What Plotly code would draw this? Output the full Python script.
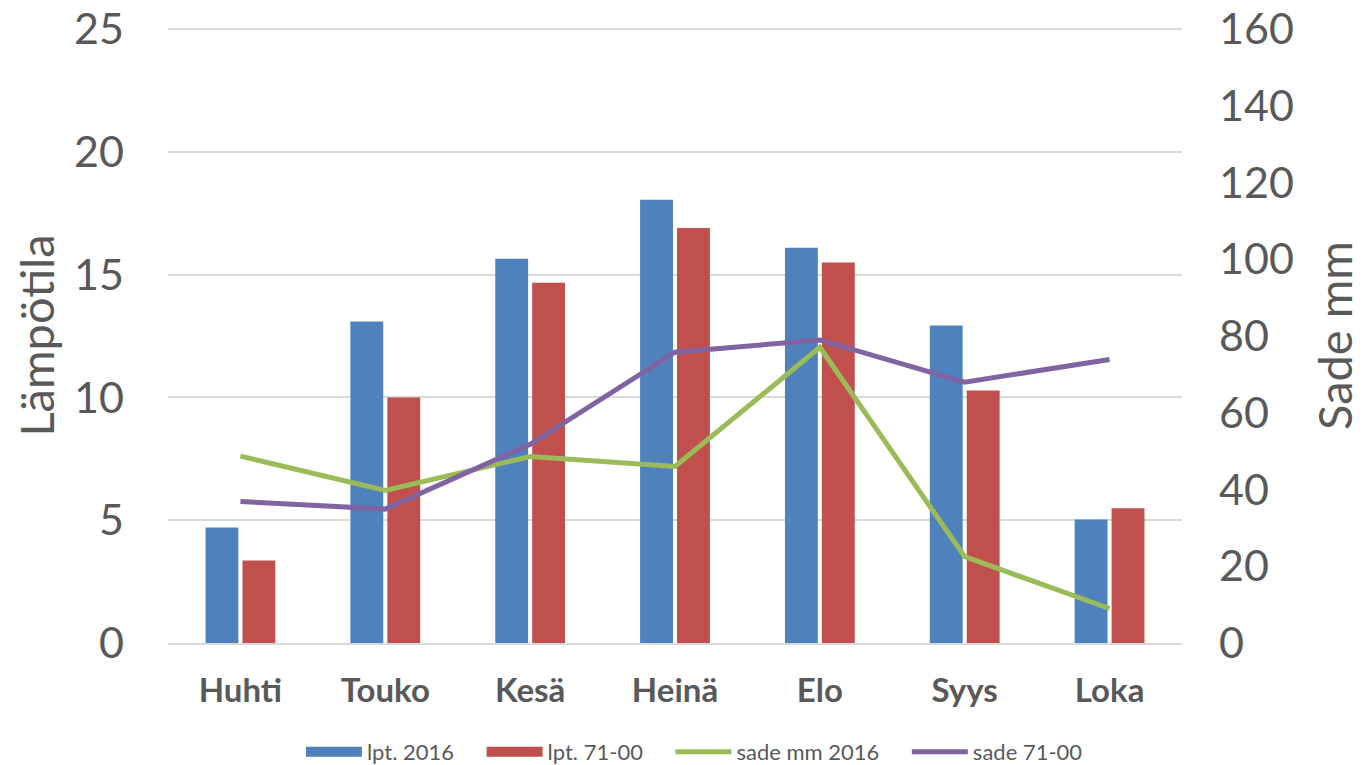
import plotly.graph_objects as go

months = ["Huhti", "Touko", "Kesä", "Heinä", "Elo", "Syys", "Loka"]
lpt_2016 = [4.7, 13.1, 15.65, 18.05, 16.1, 12.93, 5.03]
lpt_71_00 = [3.36, 10.0, 14.67, 16.9, 15.5, 10.28, 5.49]
sade_2016 = [48.7, 39.8, 48.6, 46.0, 77.1, 22.5, 9.0]
sade_71_00 = [36.9, 34.9, 51.8, 75.8, 79.0, 68.0, 73.9]
left_ticks = [0, 5, 10, 15, 20, 25]
right_ticks = [0, 20, 40, 60, 80, 100, 120, 140, 160]

FONT = "Lato"
GREY = "#595959"
C_BLUE, C_RED, C_GREEN, C_PURPLE = "#4F81BD", "#C0504D", "#9BBB59", "#8064A2"
PAD = "\u00a0" * 4
TOP_L = 25.05
TOP_R = 160 * TOP_L / 25

fig = go.Figure()
fig.add_trace(go.Bar(x=months, y=lpt_2016, name="lpt. 2016", marker_color=C_BLUE,
                     marker_line_width=0, showlegend=False))
fig.add_trace(go.Bar(x=months, y=lpt_71_00, name="lpt. 71-00", marker_color=C_RED,
                     marker_line_width=0, showlegend=False))
fig.add_trace(go.Scatter(x=months, y=sade_2016, name="sade mm 2016", mode="lines",
                         line=dict(color=C_GREEN, width=5), yaxis="y2", showlegend=False))
fig.add_trace(go.Scatter(x=months, y=sade_71_00, name="sade 71-00", mode="lines",
                         line=dict(color=C_PURPLE, width=5), yaxis="y2", showlegend=False))

# legend swatches (Excel-style wide rectangles / lines)
for nm, col, w in [("lpt. 2016", C_BLUE, 13), ("lpt. 71-00", C_RED, 13),
                   ("sade mm 2016", C_GREEN, 5), ("sade 71-00", C_PURPLE, 5)]:
    fig.add_trace(go.Scatter(x=[None], y=[None], mode="lines", name=nm + PAD,
                             line=dict(color=col, width=w), showlegend=True))

fig.update_layout(
    width=1368, height=765,
    margin=dict(l=160, r=194, t=20, b=130, autoexpand=False),
    paper_bgcolor="white", plot_bgcolor="white",
    font=dict(family=FONT, color=GREY),
    barmode="group", bargap=0.49, bargroupgap=0.11,
    showlegend=True,
    legend=dict(orientation="h", x=0.53, xanchor="center", y=-0.1772, yanchor="middle",
                font=dict(size=22, color=GREY), itemwidth=56, traceorder="normal"),
    xaxis=dict(showgrid=False, showline=True, linecolor="#D9D9D9", linewidth=2,
               tickfont=dict(size=33, color=GREY, family=FONT, weight="bold"),
               ticks="", ticklabelstandoff=17, automargin=False),
    yaxis=dict(range=[0, TOP_L], tickvals=left_ticks, showgrid=True, gridcolor="#D9D9D9",
               gridwidth=2, zeroline=False, tickfont=dict(size=43, color=GREY),
               ticks="", ticklabelstandoff=43, automargin=False, ticklabeloverflow="allow",
               title=dict(text="Lämpötila", font=dict(size=47, color=GREY), standoff=6)),
    yaxis2=dict(range=[0, TOP_R], tickvals=right_ticks, overlaying="y", side="right",
                showgrid=False, zeroline=False, tickfont=dict(size=43, color=GREY),
                ticks="", ticklabelstandoff=36, automargin=False, ticklabeloverflow="allow",
                title=dict(text="Sade mm", font=dict(size=47, color=GREY), standoff=26)),
)

fig.write_html("out.html")
